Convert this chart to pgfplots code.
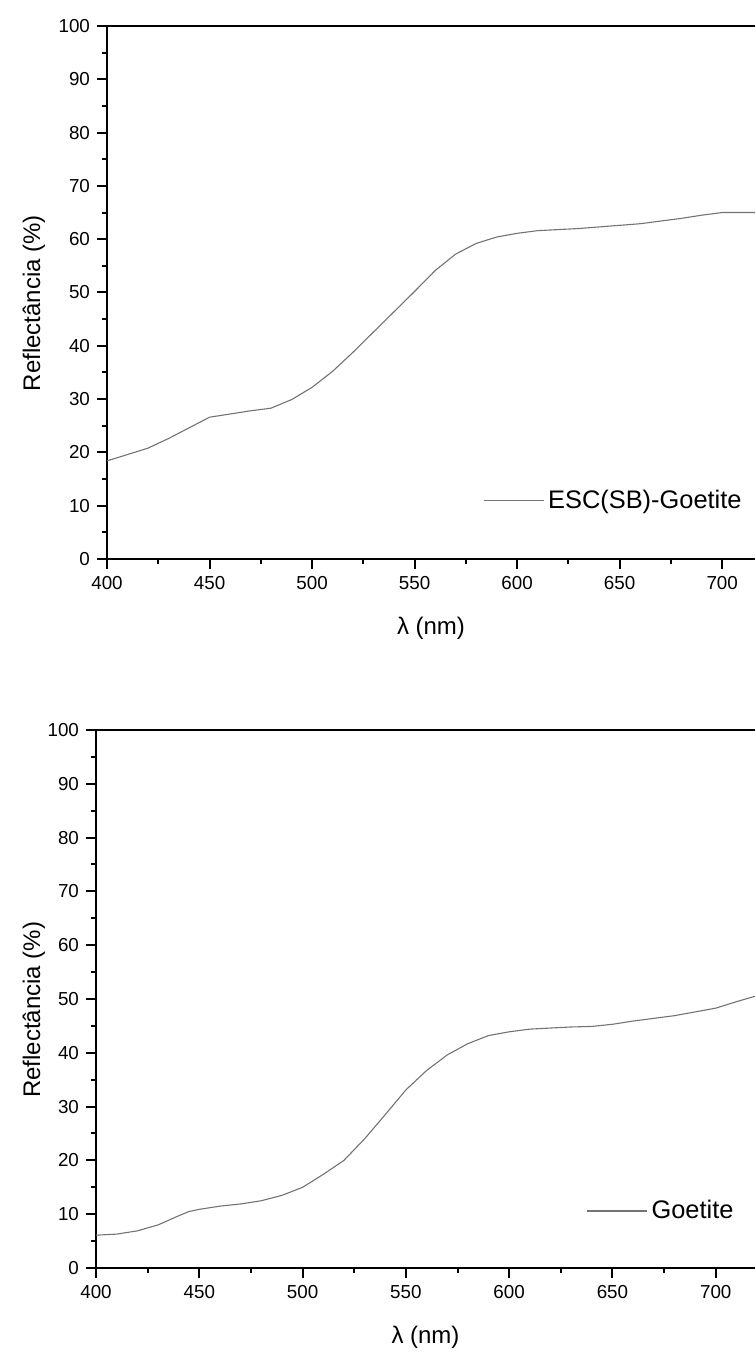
\documentclass[border=0pt]{standalone}
\usepackage{fontspec}
\setmainfont{Liberation Sans}
\usepackage{pgfplots}
\usepackage{pgfplotstable}
\pgfplotsset{compat=1.18}
\pgfplotstableread{
x y
400 18.4
410 19.6
420 20.8
430 22.6
440 24.6
450 26.6
460 27.2
470 27.8
480 28.3
490 29.9
500 32.2
510 35.2
520 38.8
530 42.6
540 46.4
550 50.2
560 54.1
570 57.2
580 59.2
590 60.4
600 61.1
610 61.6
620 61.8
630 62.0
640 62.3
650 62.6
660 62.9
670 63.4
680 63.9
690 64.5
700 65.0
716 65.0
}\esc
\pgfplotstableread{
x y
400 6.1
410 6.3
420 6.9
430 8.0
440 9.7
445 10.5
450 10.9
460 11.5
470 11.9
480 12.5
490 13.5
500 15.0
510 17.4
520 20.0
530 24.0
540 28.5
550 33.1
560 36.7
570 39.6
580 41.7
590 43.2
600 43.9
610 44.4
620 44.6
630 44.8
640 44.9
650 45.3
660 45.9
670 46.4
680 46.9
690 47.6
700 48.3
710 49.5
719 50.5
}\goe
\pgfplotsset{
  refl/.style={
    scale only axis,
    anchor=south west,
    xmin=400, ymin=0, ymax=100,
    axis x line*=box, axis y line*=left,
    xtick pos=bottom, ytick pos=left,
    xtick={400,450,...,700}, minor x tick num=1,
    ytick={0,10,...,100}, minor y tick num=1,
    tick align=outside,
    major tick length=5pt, minor tick length=2.5pt,
    every tick/.style={line width=1pt, black},
    axis line style={line width=1.1pt, black},
    /pgf/number format/assume math mode=true,
    tick label style={font=\fontsize{9.4}{11}\selectfont},
    label style={font=\fontsize{12}{14}\selectfont},
    xlabel={λ (nm)}, ylabel={Reflectância (\%)},
    xlabel style={at={(axis description cs:0.5,0)}, anchor=center, yshift=-34.5pt},
    legend style={draw=none, fill=none, anchor=east, inner sep=0pt,
      font=\fontsize{12.7}{15}\selectfont,
      /tikz/every even column/.append style={column sep=1.8pt}},
    legend image code/.code={\draw[#1] (0pt,0pt) -- (30pt,0pt);},
  },
  curve/.style={black!55, line width=0.55pt, mark=none},
}
\begin{document}
\begin{tikzpicture}
\useasboundingbox (0pt,0pt) rectangle (377.5pt,677pt);
\begin{axis}[refl,
  at={(53.5pt,397.5pt)}, width=324pt, height=266.5pt, xmax=716,
  ylabel style={at={(axis description cs:-0.1127,0.48)}, anchor=center},
  legend style={at={(0.986,0.109)}},
]
\addplot[curve] table[x=x,y=y]{\esc};
\addlegendentry{ESC(SB)-Goetite}
\end{axis}
\begin{axis}[refl,
  at={(48pt,43pt)}, width=329.5pt, height=269pt, xmax=719,
  ylabel style={at={(axis description cs:-0.0941,0.48)}, anchor=center},
  legend style={at={(0.974,0.106)}},
]
\addplot[curve] table[x=x,y=y]{\goe};
\addlegendentry{Goetite}
\end{axis}
\end{tikzpicture}
\end{document}
